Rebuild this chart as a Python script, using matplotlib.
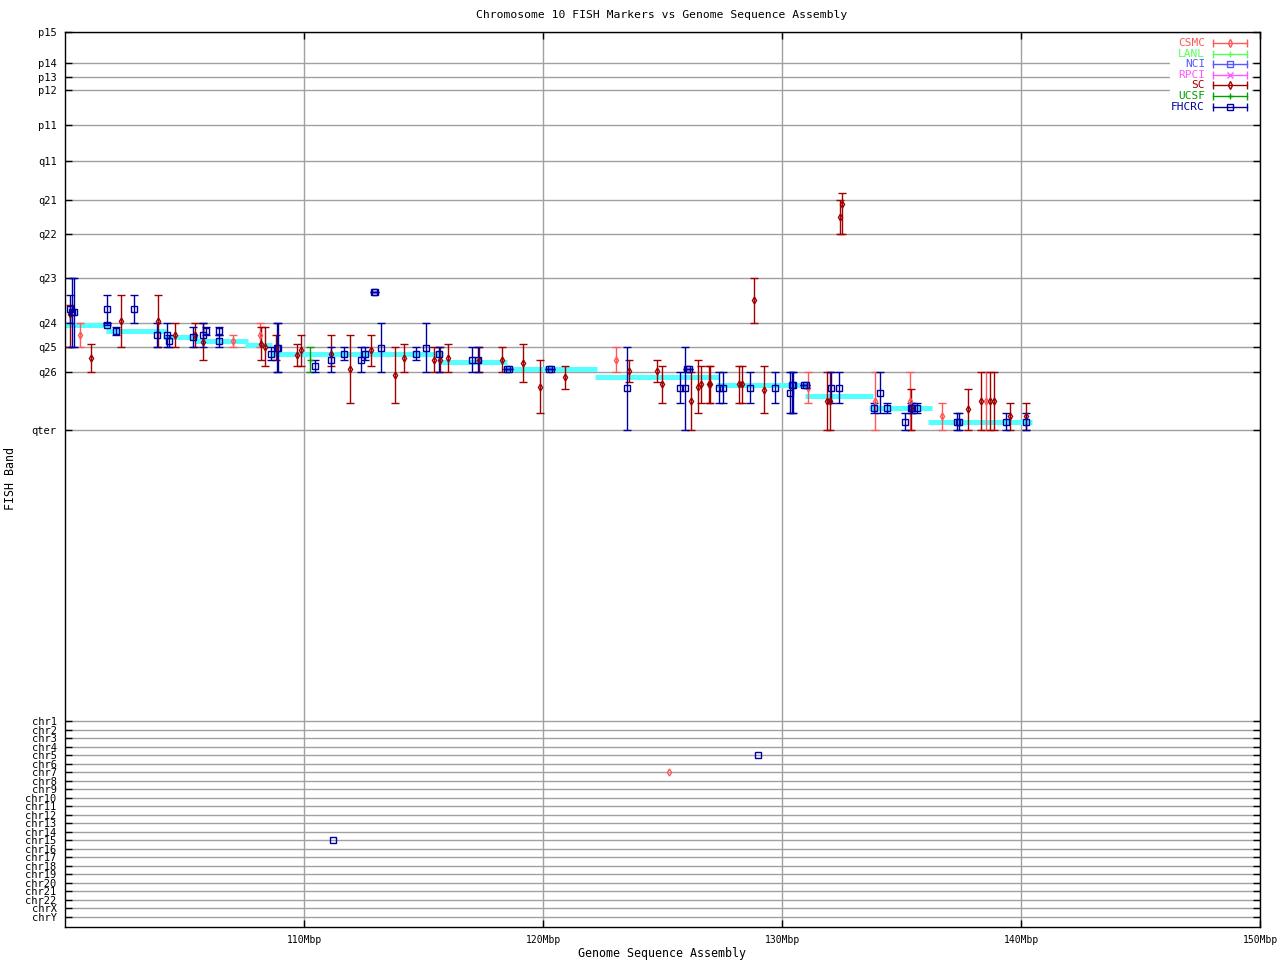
import numpy as np
import matplotlib
matplotlib.use('Agg')
import matplotlib.pyplot as plt

# Band scale (position along chromosome, arbitrary units, top = p15)
band_names = ['p15', 'p14', 'p13', 'p12', 'p11', 'q11', 'q21', 'q22',
              'q23', 'q24', 'q25', 'q26', 'qter']
band_pos = [0, 31, 45, 58, 93, 129, 168, 202, 246, 291, 315, 340, 398]
chr_names = ['chr' + str(i) for i in range(1, 23)] + ['chrX', 'chrY']
chr_pos = list(689 + 8.52 * np.arange(len(chr_names)))

# series: x (Mbp), band value, error low, error high
sc_x = [100.21, 101.10, 102.36, 103.91, 104.62, 105.46, 105.79, 108.18, 108.35, 108.81,
        109.69, 109.86, 111.11, 111.91, 112.79, 113.79, 114.17, 115.43, 115.68, 116.01,
        117.31, 118.27, 119.15, 119.87, 120.91, 123.59, 124.77, 124.98, 126.19, 126.48,
        126.61, 126.95, 126.99, 128.20, 128.33, 128.83, 129.25, 131.90, 132.01, 132.42,
        132.50, 135.41, 137.79, 138.34, 138.71, 138.88, 139.55, 140.22]
sc_y = [282, 326.3, 289.3, 289.3, 303.3, 303.3, 310, 312.3, 315, 316.3,
        323.3, 318.3, 322.3, 337.3, 318.3, 343.3, 326.3, 328, 328, 326.3,
        328, 328, 331.3, 355.3, 345.3, 339.3, 339.3, 352.3, 369.3, 355.3,
        352.3, 352.3, 352.3, 352.3, 352.3, 268.3, 358.3, 369.3, 369.3, 185,
        172, 376, 377.3, 369.3, 369.3, 369.3, 384.3, 384.3]
sc_lo = [273, 312.3, 263, 263, 291, 291, 291, 295.3, 295.3, 303.3,
         312.3, 303.3, 303.3, 303.3, 303.3, 315, 312.3, 315, 315, 312.3,
         315, 315, 312.3, 328, 334.3, 328, 328, 334.3, 340, 328,
         334.3, 334.3, 334.3, 334.3, 334.3, 246, 334.3, 340, 340, 168,
         161, 357.3, 357.3, 340, 340, 340, 371.3, 371.3]
sc_hi = [315, 340, 315, 315, 315, 315, 328, 328, 334.3, 328,
         334.3, 334.3, 334.3, 371.3, 334.3, 371.3, 340, 340, 340, 340,
         340, 340, 350.3, 381, 357.3, 350.3, 350.3, 371.3, 398, 381,
         371.3, 371.3, 371.3, 371.3, 371.3, 291, 381, 398, 398, 202,
         202, 398, 398, 398, 398, 398, 398, 398]

csmc_x = [100.64, 107.01, 108.14, 123.05, 131.09, 133.90, 135.36, 136.70, 138.55]
csmc_y = [303, 309, 303.3, 328, 356.3, 369.3, 369.3, 384.3, 369.3]
csmc_lo = [291, 303.3, 291, 315, 340, 340, 340, 371.3, 340]
csmc_hi = [315, 315, 315, 340, 371.3, 398, 398, 398, 398]

ucsf_x = [110.27]
ucsf_y = [328]
ucsf_lo = [315]
ucsf_hi = [340]

fh_x = [100.22, 100.29, 100.38, 101.77, 101.77, 102.15, 102.90, 103.87, 104.28, 104.34,
        105.37, 105.79, 105.92, 106.46, 106.46, 108.64, 108.88, 108.93, 110.44, 111.15,
        111.66, 112.37, 112.54, 112.93, 112.99, 113.21, 114.67, 115.09, 115.64, 117.02,
        117.27, 118.50, 118.56, 120.26, 120.32, 123.51, 125.73, 125.94, 126.04, 126.10,
        127.38, 127.53, 128.66, 129.71, 130.34, 130.40, 130.45, 130.94, 131.00, 132.06,
        132.39, 133.86, 134.11, 134.40, 135.15, 135.38, 135.44, 135.66, 137.33, 137.39,
        139.38, 140.22]
fh_y = [277.3, 280, 280, 277.3, 293, 299, 277.3, 303.3, 303.3, 309,
        305.3, 303.3, 299, 299, 309, 322.3, 316.3, 316.3, 334.3, 328,
        322.3, 328, 322.3, 260.3, 260.3, 316.3, 322.3, 316.3, 322.3, 328,
        328, 337.3, 337.3, 337.3, 337.3, 356.3, 356.3, 356.3, 337.3, 337.3,
        356.3, 356.3, 356.3, 356.3, 361, 352.7, 352.7, 352.7, 352.7, 356.3,
        356.3, 376, 361, 376, 390, 376, 376, 376, 390, 390,
        390, 390]
fh_lo = [263, 246, 246, 263, 291, 295.3, 263, 291, 291, 303.3,
         295.3, 291, 295.3, 295.3, 303.3, 315, 291, 291, 328, 315,
         315, 315, 315, 260.3, 260.3, 291, 315, 291, 315, 315,
         315, 337.3, 337.3, 337.3, 337.3, 315, 340, 315, 337.3, 337.3,
         340, 340, 340, 340, 340, 340, 340, 352.7, 352.7, 340,
         340, 371.3, 340, 371.3, 381, 371.3, 371.3, 371.3, 381, 381,
         381, 381]
fh_hi = [291, 315, 315, 291, 293, 303.3, 291, 315, 315, 315,
         315, 315, 303.3, 303.3, 315, 328, 340, 340, 340, 340,
         328, 340, 328, 260.3, 260.3, 340, 328, 340, 340, 340,
         340, 337.3, 337.3, 337.3, 337.3, 398, 371.3, 398, 337.3, 337.3,
         371.3, 371.3, 371.3, 371.3, 381, 381, 381, 352.7, 352.7, 371.3,
         371.3, 381, 381, 381, 398, 381, 381, 381, 398, 398,
         398, 398]

# hits on other chromosomes (x in Mbp, chromosome index)
other_fh_x = [128.98, 111.23]
other_fh_chr = [4, 14]
other_csmc_x = [125.26]
other_csmc_chr = [6]

# assembly band steps (start Mbp, end Mbp, band value)
asm_x0 = [99.92, 101.72, 104.10, 105.45, 107.54, 108.59, 115.62, 118.35, 122.16, 127.23, 130.95, 133.63, 136.10]
asm_x1 = [101.84, 104.23, 105.57, 107.66, 108.67, 115.83, 118.51, 122.28, 127.35, 131.12, 133.80, 136.27, 140.46]
asm_y = [292.7, 299, 304.7, 308.7, 312.7, 321.5, 330.3, 337, 345, 352.7, 363.7, 376, 389.7]

labs = ['CSMC', 'LANL', 'NCI', 'RPCI', 'SC', 'UCSF', 'FHCRC']
cols = ['#ff5858', '#58ff58', '#5858ff', '#ff58ff', '#a00000', '#00a000', '#0000a0']
mks = ['d', '+', 's', 'x', 'd', '+', 's']

plt.rcParams['font.family'] = 'DejaVu Sans Mono'
fig = plt.figure(figsize=(12.8, 9.6), dpi=100)
ax = fig.add_axes([65/1280, 1 - 927/960, 1195/1280, 895/960])
ax.set_xlim(100, 150)
ax.set_ylim(895, 0)

ax.set_xticks([110, 120, 130, 140, 150])
ax.set_xticklabels(['110Mbp', '120Mbp', '130Mbp', '140Mbp', '150Mbp'], fontsize=7)
ax.set_yticks(band_pos + chr_pos)
ax.set_yticklabels(band_names + chr_names, fontsize=7.5)
ax.tick_params(direction='in', length=5, width=1, right=True, top=True, pad=6)
ax.grid(True, color='#a0a0a0', lw=1)
ax.set_axisbelow(True)
for s in ax.spines.values():
    s.set_linewidth(1)

# white box behind the key hides the grid there
fig.add_artist(plt.Rectangle((1170/1280, 1 - 113/960), 82/1280, 77/960,
                             facecolor='white', edgecolor='none', zorder=1.5))

for x0, x1, y in zip(asm_x0, asm_x1, asm_y):
    ax.plot([x0, x1], [y, y], color='#55ffff', lw=3.6, solid_capstyle='butt', zorder=2)


def draw(x, y, lo, hi, i, ms):
    x = np.array(x); y = np.array(y)
    err = [y - np.array(lo), np.array(hi) - y]
    ax.errorbar(x, y, yerr=err, fmt=mks[i], color=cols[i], ms=ms, mfc='none', mew=1,
                capsize=3, elinewidth=1, capthick=1, zorder=3)


draw(csmc_x, csmc_y, csmc_lo, csmc_hi, 0, 3.5)
draw(sc_x, sc_y, sc_lo, sc_hi, 4, 3.5)
draw(ucsf_x, ucsf_y, ucsf_lo, ucsf_hi, 5, 5)
draw(fh_x, fh_y, fh_lo, fh_hi, 6, 4)

ax.plot(other_fh_x, [chr_pos[c] for c in other_fh_chr], 's', color=cols[6], ms=4, mfc='none', mew=1)
ax.plot(other_csmc_x, [chr_pos[c] for c in other_csmc_chr], 'd', color=cols[0], ms=3.5, mfc='none', mew=1)

# legend drawn by hand, gnuplot style
for i, lab in enumerate(labs):
    py = 43 + 10.6 * i
    yy = 1 - py / 960
    fig.text(1205/1280, yy, lab, color=cols[i], fontsize=8, ha='right', va='center', zorder=3)
    fig.add_artist(plt.Line2D([1213/1280, 1247/1280], [yy, yy], color=cols[i], lw=1, zorder=3))
    fig.add_artist(plt.Line2D([1213/1280, 1247/1280], [yy, yy], ls='none', marker='|', ms=6,
                              color=cols[i], zorder=3))
    fig.add_artist(plt.Line2D([1230/1280], [yy], ls='none', marker=mks[i], ms=4, mfc='none',
                              color=cols[i], zorder=3))

fig.text(662/1280, 1 - 15/960, 'Chromosome 10 FISH Markers vs Genome Sequence Assembly', fontsize=8.2, ha='center', va='center')
fig.text(662/1280, 1 - 953/960, 'Genome Sequence Assembly', fontsize=8.4, ha='center', va='center')
fig.text(11/1280, 1 - 478/960, 'FISH Band', fontsize=8.4, rotation=90, ha='center', va='center')

fig.savefig('out.png', dpi=100)
